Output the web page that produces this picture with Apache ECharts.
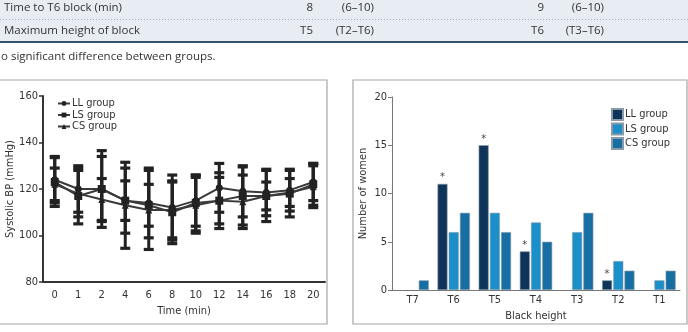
<!DOCTYPE html>
<html>
<head>
<meta charset="utf-8">
<script src="https://cdn.jsdelivr.net/npm/echarts@6/dist/echarts.min.js"></script>
<style>
html, body { margin: 0; padding: 0; background: #fff; }
#main { width: 688px; height: 332px; }
</style>
</head>
<body>
<div id="main"></div>
<script>
// table rows above the charts
var tableRows = [
	['Time to T6 block (min)', '8', '(6–10)', '9', '(6–10)'],
	['Maximum height of block', 'T5', '(T2–T6)', 'T6', '(T3–T6)']
];
var footNote = 'o significant difference between groups.';

// left chart: systolic BP over time
var timeLabels = ['0', '1', '2', '4', '6', '8', '10', '12', '14', '16', '18', '20'];
var llMean = [124, 120, 120, 115, 114, 112, 115, 120.5, 119, 118.5, 119.5, 123];
var lsMean = [123, 117, 120, 115, 113, 110, 114, 115, 117, 117, 118, 122];
var csMean = [122, 118, 115.5, 113, 111, 111, 113, 115, 114.5, 117, 118.5, 121];
var llSd = [10, 10, 16.5, 14, 15, 14, 11, 10.5, 11, 10, 9, 8];
var lsSd = [10.5, 12, 14, 8.5, 9, 13.5, 12, 12, 12.5, 11, 10, 9];
var csSd = [7, 10, 9, 18.5, 17, 12, 12, 10, 11.5, 6, 6, 9];

// right chart: block height
var heightLabels = ['T7', 'T6', 'T5', 'T4', 'T3', 'T2', 'T1'];
var llCount = ['-', 11, 15, 4, '-', 1, '-'];
var lsCount = ['-', 6, 8, 7, 6, 3, 1];
var csCount = [1, 8, 6, 5, 8, 2, 2];
var llStar = [false, true, true, true, false, true, false];

var narrow = "'Liberation Sans Narrow', 'DejaVu Sans Condensed', 'Roboto Condensed', sans-serif";
var tableFont = "11.5px 'Open Sans', sans-serif";

function errData(mean, sd) {
	var out = [];
	for (var i = 0; i < mean.length; i++) {
		out.push([i, mean[i] - sd[i], mean[i] + sd[i]]);
	}
	return out;
}

function renderErr(params, api) {
	var x = api.value(0);
	var lo = api.coord([x, api.value(1)]);
	var hi = api.coord([x, api.value(2)]);
	var w = 5;
	var st = { stroke: '#222', lineWidth: 3 };
	var cap = { stroke: '#222', lineWidth: 3.2 };
	return {
		type: 'group',
		children: [
			{ type: 'line', shape: { x1: lo[0], y1: lo[1], x2: hi[0], y2: hi[1] }, style: st },
			{ type: 'line', shape: { x1: hi[0] - w, y1: hi[1], x2: hi[0] + w, y2: hi[1] }, style: cap },
			{ type: 'line', shape: { x1: lo[0] - w, y1: lo[1], x2: lo[0] + w, y2: lo[1] }, style: cap }
		]
	};
}

function tableGraphics() {
	var els = [
		{ type: 'rect', shape: { x: 0, y: 0, width: 688, height: 42 }, style: { fill: '#e8edf4' }, silent: true },
		{ type: 'line', shape: { x1: 0, y1: 19.5, x2: 688, y2: 19.5 }, style: { stroke: '#a3acb8', lineWidth: 1, lineDash: [1, 2] } },
		{ type: 'line', shape: { x1: 0, y1: 42, x2: 688, y2: 42 }, style: { stroke: '#34506e', lineWidth: 2 } },
		{ type: 'text', style: { text: footNote, x: 1, y: 57, fill: '#333', font: tableFont, verticalAlign: 'middle' } },
		{ type: 'rect', shape: { x: -1, y: 80, width: 328, height: 244 }, style: { fill: null, stroke: '#a5a5a5', lineWidth: 1.2 } },
		{ type: 'rect', shape: { x: 353, y: 80, width: 334, height: 244 }, style: { fill: null, stroke: '#a5a5a5', lineWidth: 1.2 } }
	];
	var rowY = [8, 31];
	var colX = [4, 313, 374, 544, 604];
	var colAlign = ['left', 'right', 'right', 'right', 'right'];
	for (var r = 0; r < tableRows.length; r++) {
		for (var c = 0; c < tableRows[r].length; c++) {
			els.push({
				type: 'text',
				style: {
					text: tableRows[r][c], x: colX[c], y: rowY[r], fill: '#333',
					font: tableFont, align: colAlign[c], verticalAlign: 'middle'
				}
			});
		}
	}
	return els;
}

var dom = document.getElementById('main');
var myChart = echarts.init(dom, null, { renderer: 'canvas' });

var axisText = { color: '#333', fontSize: 11, fontFamily: narrow };

var option = {
	animation: false,
	textStyle: { fontFamily: narrow },
	graphic: tableGraphics(),
	legend: [{
		data: ['LL group', 'LS group', 'CS group'],
		orient: 'vertical',
		left: 57,
		top: 98,
		itemWidth: 12,
		itemHeight: 6,
		itemGap: 0.5,
		padding: 0,
		textStyle: { color: '#333', fontSize: 11, lineHeight: 10, fontFamily: narrow, padding: [0, 0, 0, -3] }
	}, {
		data: ['LL ', 'LS ', 'CS '],
		orient: 'vertical',
		left: 611,
		top: 108,
		itemWidth: 11,
		itemHeight: 11,
		itemGap: 1.5,
		padding: 0,
		icon: 'rect',
		textStyle: { color: '#333', fontSize: 11, lineHeight: 11, fontFamily: narrow, padding: [0, 0, 0, -3] },
		formatter: function (n) { return n.trim() + ' group'; }
	}],
	grid: [
		{ left: 43, top: 96, width: 282, height: 186 },
		{ left: 392, top: 97, width: 288, height: 193 }
	],
	xAxis: [{
		gridIndex: 0,
		type: 'category',
		data: timeLabels,
		boundaryGap: true,
		name: 'Time (min)',
		nameLocation: 'middle',
		nameGap: 21,
		nameTextStyle: axisText,
		axisLine: { lineStyle: { color: '#333', width: 2 } },
		axisTick: { alignWithLabel: true, length: 4, lineStyle: { color: '#333', width: 1.5 } },
		axisLabel: axisText,
		splitLine: { show: false }
	}, {
		gridIndex: 1,
		type: 'category',
		data: heightLabels,
		name: 'Black height',
		nameLocation: 'middle',
		nameGap: 17,
		nameTextStyle: axisText,
		axisLine: { lineStyle: { color: '#777', width: 1 } },
		axisTick: { alignWithLabel: true, length: 3, lineStyle: { color: '#777' } },
		axisLabel: Object.assign({ margin: 5 }, axisText),
		splitLine: { show: false }
	}],
	yAxis: [{
		gridIndex: 0,
		type: 'value',
		min: 80,
		max: 160,
		interval: 20,
		name: 'Systolic BP (mmHg)',
		nameLocation: 'middle',
		nameGap: 27,
		nameTextStyle: axisText,
		axisLine: { show: true, lineStyle: { color: '#333', width: 2 } },
		axisTick: { show: true, length: 4, lineStyle: { color: '#333', width: 1.5 } },
		axisLabel: Object.assign({ margin: 5 }, axisText),
		splitLine: { show: false }
	}, {
		gridIndex: 1,
		type: 'value',
		min: 0,
		max: 20,
		interval: 5,
		name: 'Number of women',
		nameLocation: 'middle',
		nameGap: 23,
		nameTextStyle: axisText,
		axisLine: { show: true, lineStyle: { color: '#777', width: 1 } },
		axisTick: { show: true, length: 4, lineStyle: { color: '#777' } },
		axisLabel: Object.assign({ margin: 5 }, axisText),
		splitLine: { show: false }
	}],
	series: [
		{ type: 'custom', xAxisIndex: 0, yAxisIndex: 0, renderItem: renderErr, data: errData(llMean, llSd), z: 2 },
		{ type: 'custom', xAxisIndex: 0, yAxisIndex: 0, renderItem: renderErr, data: errData(lsMean, lsSd), z: 2 },
		{ type: 'custom', xAxisIndex: 0, yAxisIndex: 0, renderItem: renderErr, data: errData(csMean, csSd), z: 2 },
		{
			name: 'LL group', type: 'line', xAxisIndex: 0, yAxisIndex: 0, data: llMean, z: 3,
			symbol: 'circle', symbolSize: 7, itemStyle: { color: '#222' },
			lineStyle: { color: '#3a3a3a', width: 2 }
		},
		{
			name: 'LS group', type: 'line', xAxisIndex: 0, yAxisIndex: 0, data: lsMean, z: 3,
			symbol: 'rect', symbolSize: 8, itemStyle: { color: '#222' },
			lineStyle: { color: '#3a3a3a', width: 2 }
		},
		{
			name: 'CS group', type: 'line', xAxisIndex: 0, yAxisIndex: 0, data: csMean, z: 3,
			symbol: 'triangle', symbolSize: 7, itemStyle: { color: '#222' },
			lineStyle: { color: '#3a3a3a', width: 2 }
		},
		{
			name: 'LL ', type: 'bar', xAxisIndex: 1, yAxisIndex: 1, barWidth: 10, barGap: '12%',
			data: llCount.map(function (v, i) {
				return { value: v, label: { show: llStar[i], formatter: '*' } };
			}),
			itemStyle: { color: '#0e3559', borderColor: '#8a9aa8', borderWidth: 0.6 },
			label: { position: 'top', distance: 1, color: '#444', fontSize: 11 }
		},
		{
			name: 'LS ', type: 'bar', xAxisIndex: 1, yAxisIndex: 1, barWidth: 10, barGap: '12%',
			data: lsCount,
			itemStyle: { color: '#1a8fc9', borderColor: '#8a9aa8', borderWidth: 0.6 }
		},
		{
			name: 'CS ', type: 'bar', xAxisIndex: 1, yAxisIndex: 1, barWidth: 10, barGap: '12%',
			data: csCount,
			itemStyle: { color: '#176ea3', borderColor: '#8a9aa8', borderWidth: 0.6 }
		}
	]
};

if (option && typeof option === "object") {
	myChart.setOption(option, true);
}
window.addEventListener('resize', function () {
	myChart.resize();
});
</script>
</body>
</html>
